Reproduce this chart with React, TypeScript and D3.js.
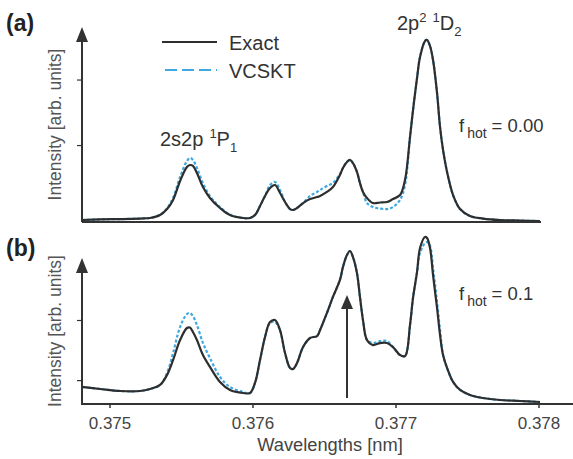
import React from 'react';
import * as d3 from 'd3';

const W = 573;
const H = 459;

// wavelength grid [nm], shared by all four curves
const wavelengths = [
  0.374804, 0.37493, 0.37507, 0.37521, 0.37528, 0.37535, 0.375399, 0.375441, 0.37549, 0.375538,
  0.375559, 0.37558, 0.375608, 0.37565, 0.375699, 0.375769, 0.375839, 0.37593, 0.375979, 0.376014,
  0.376049, 0.376084, 0.376119, 0.376154, 0.376189, 0.376224, 0.376259, 0.37628, 0.376308, 0.37635,
  0.376399, 0.376448, 0.376469, 0.376517, 0.376559, 0.376608, 0.376629, 0.376657, 0.376678, 0.376699,
  0.376727, 0.376748, 0.376769, 0.376797, 0.376839, 0.376888, 0.376937, 0.376979, 0.377028, 0.377063,
  0.377098, 0.377119, 0.377147, 0.377168, 0.377203, 0.377217, 0.377238, 0.377259, 0.377287, 0.377308,
  0.377329, 0.377357, 0.377399, 0.377448, 0.377517, 0.377608, 0.377727, 0.377867, 0.378007,
];

// panel (a), f_hot = 0.00
const exactA = [
  0.011, 0.014, 0.016, 0.019, 0.022, 0.038, 0.071, 0.121, 0.225, 0.302,
  0.313, 0.308, 0.269, 0.192, 0.132, 0.077, 0.038, 0.022, 0.022, 0.038,
  0.088, 0.143, 0.187, 0.203, 0.159, 0.11, 0.071, 0.066, 0.077, 0.104,
  0.126, 0.137, 0.143, 0.165, 0.192, 0.258, 0.297, 0.33, 0.341, 0.324,
  0.275, 0.214, 0.165, 0.132, 0.104, 0.107, 0.11, 0.126, 0.148, 0.231,
  0.467, 0.615, 0.791, 0.907, 0.995, 1.0, 0.967, 0.89, 0.709, 0.522,
  0.396, 0.275, 0.148, 0.071, 0.033, 0.019, 0.011, 0.008, 0.005,
];
const vcsktA = [
  0.011, 0.014, 0.016, 0.019, 0.022, 0.04, 0.075, 0.132, 0.247, 0.335,
  0.352, 0.341, 0.297, 0.214, 0.143, 0.082, 0.04, 0.022, 0.022, 0.038,
  0.088, 0.143, 0.203, 0.22, 0.176, 0.11, 0.071, 0.066, 0.077, 0.104,
  0.143, 0.165, 0.176, 0.198, 0.214, 0.264, 0.297, 0.33, 0.341, 0.324,
  0.275, 0.214, 0.165, 0.104, 0.082, 0.074, 0.071, 0.082, 0.121, 0.203,
  0.467, 0.615, 0.791, 0.907, 0.995, 1.0, 0.967, 0.89, 0.709, 0.522,
  0.396, 0.275, 0.148, 0.071, 0.033, 0.019, 0.011, 0.008, 0.005,
];

// panel (b), f_hot = 0.1
const exactB = [
  0.102, 0.09, 0.078, 0.078, 0.09, 0.114, 0.174, 0.263, 0.383, 0.455,
  0.458, 0.431, 0.383, 0.293, 0.222, 0.132, 0.084, 0.066, 0.066, 0.126,
  0.263, 0.401, 0.491, 0.503, 0.443, 0.305, 0.216, 0.21, 0.246, 0.341,
  0.395, 0.407, 0.443, 0.545, 0.641, 0.743, 0.82, 0.892, 0.916, 0.88,
  0.784, 0.641, 0.503, 0.383, 0.353, 0.365, 0.365, 0.341, 0.293, 0.287,
  0.473, 0.635, 0.79, 0.934, 1.0, 0.994, 0.934, 0.772, 0.575, 0.413,
  0.293, 0.216, 0.132, 0.084, 0.054, 0.036, 0.024, 0.018, 0.012,
];
const vcsktB = [
  0.102, 0.09, 0.078, 0.078, 0.09, 0.114, 0.186, 0.305, 0.461, 0.539,
  0.545, 0.527, 0.473, 0.365, 0.275, 0.162, 0.102, 0.072, 0.066, 0.126,
  0.263, 0.401, 0.485, 0.491, 0.44, 0.305, 0.216, 0.21, 0.246, 0.341,
  0.395, 0.407, 0.443, 0.545, 0.641, 0.743, 0.82, 0.892, 0.916, 0.88,
  0.784, 0.641, 0.503, 0.383, 0.365, 0.377, 0.377, 0.341, 0.293, 0.287,
  0.473, 0.635, 0.79, 0.904, 0.964, 0.97, 0.946, 0.814, 0.611, 0.443,
  0.293, 0.216, 0.132, 0.084, 0.054, 0.036, 0.024, 0.018, 0.012,
];

const xTicks = [0.375, 0.376, 0.377, 0.378];
const yTicksA = [0.42, 0.78];
const yTicksB = [0.14, 0.5];

const seriesNames = ['Exact', 'VCSKT'];

const AXIS_X = 82;
const FONT = '"Liberation Sans", Arial, sans-serif';
const DARK = '#2e2e2e';
const BLUE = '#3ea8e0';

const x = d3.scaleLinear().domain([0.375, 0.378]).range([110, 539]);
const yA = d3.scaleLinear().domain([0, 1]).range([222, 40]);
const yB = d3.scaleLinear().domain([0, 1]).range([404, 237]);

const linePath = (ys: number[], y: d3.ScaleLinear<number, number>) =>
  d3
    .line<number>()
    .x((d, i) => x(wavelengths[i]))
    .y((d) => y(d))
    .curve(d3.curveCatmullRom.alpha(0.5))(ys) as string;

const Arrow = ({ cx, tip, base }: { cx: number; tip: number; base: number }) => (
  <path d={`M${cx},${tip}L${cx - 6},${base}L${cx + 6},${base}Z`} fill="#333" />
);

const Panel = ({
  y,
  exact,
  vcskt,
  ticks,
  top,
  label,
  labelY,
  hot,
  hotY,
}: {
  y: d3.ScaleLinear<number, number>;
  exact: number[];
  vcskt: number[];
  ticks: number[];
  top: number;
  label: string;
  labelY: number;
  hot: string;
  hotY: number;
}) => {
  const y0 = y(0);
  const mid = (y0 + top) / 2;
  return (
    <g>
      <text x={6} y={labelY} fontFamily={FONT} fontWeight="bold" fontSize={23} fill="#222">
        {label}
      </text>
      <line x1={AXIS_X} x2={AXIS_X} y1={y0} y2={top + 10} stroke="#333" strokeWidth={2} />
      <Arrow cx={AXIS_X} tip={top} base={top + 15} />
      {ticks.map((t) => (
        <line key={t} x1={AXIS_X - 5} x2={AXIS_X} y1={y(t)} y2={y(t)} stroke="#333" strokeWidth={1.2} />
      ))}
      <text
        transform={`translate(61,${mid}) rotate(-90)`}
        textAnchor="middle"
        fontFamily={FONT}
        fontSize={17.5}
        fill="#555"
      >
        Intensity [arb. units]
      </text>
      <path d={linePath(vcskt, y)} fill="none" stroke={BLUE} strokeWidth={2.2} strokeDasharray="3,2" />
      <path d={linePath(exact, y)} fill="none" stroke={DARK} strokeWidth={2.2} />
      <text x={459} y={hotY} fontFamily={FONT} fontSize={18.5} fill="#333">
        f
        <tspan dx={3} dy={6} fontSize={14}>
          hot
        </tspan>
        <tspan dx={5} dy={-6}>
          {`= ${hot}`}
        </tspan>
      </text>
    </g>
  );
};

export default function App() {
  const yAxisB = yB(0);
  return (
    <svg
      width={W}
      height={H}
      style={{ position: 'absolute', left: 0, top: 0, background: '#fff' }}
    >
      <Panel y={yA} exact={exactA} vcskt={vcsktA} ticks={yTicksA} top={27} label="(a)" labelY={31} hot="0.00" hotY={132} />
      <line x1={AXIS_X} x2={541} y1={yA(0)} y2={yA(0)} stroke="#333" strokeWidth={2} />

      <Panel y={yB} exact={exactB} vcskt={vcsktB} ticks={yTicksB} top={258} label="(b)" labelY={256} hot="0.1" hotY={300} />
      <line x1={AXIS_X - 1} x2={W} y1={yAxisB} y2={yAxisB} stroke="#333" strokeWidth={2} />
      {xTicks.map((t) => (
        <g key={t}>
          <line x1={x(t)} x2={x(t)} y1={yAxisB} y2={yAxisB + 4} stroke="#333" strokeWidth={1.5} />
          <text x={x(t)} y={429} textAnchor="middle" fontFamily={FONT} fontSize={17} fill="#444">
            {t.toFixed(3)}
          </text>
        </g>
      ))}
      <text x={330} y={451} textAnchor="middle" fontFamily={FONT} fontSize={18.3} fill="#444">
        Wavelengths [nm]
      </text>

      {/* vertical arrow marking the hot-electron feature */}
      <line x1={347} x2={347} y1={398} y2={305} stroke="#333" strokeWidth={2} />
      <Arrow cx={347} tip={295} base={309} />

      {/* legend */}
      <line x1={162} x2={217} y1={42} y2={42} stroke={DARK} strokeWidth={2.2} />
      <line x1={165} x2={217} y1={70} y2={70} stroke={BLUE} strokeWidth={2.2} strokeDasharray="12,5" />
      <text x={229} y={50} fontFamily={FONT} fontSize={20} fill="#333">
        {seriesNames[0]}
      </text>
      <text x={229} y={78} fontFamily={FONT} fontSize={20} fill="#333">
        {seriesNames[1]}
      </text>

      {/* line assignments */}
      <text x={160} y={146} fontFamily={FONT} fontSize={20} fill="#333">
        2s2p
        <tspan dx={6} dy={-8} fontSize={13}>
          1
        </tspan>
        <tspan dy={8}>P</tspan>
        <tspan dy={6} fontSize={13}>
          1
        </tspan>
      </text>
      <text x={397} y={30} fontFamily={FONT} fontSize={20} fill="#333">
        2p
        <tspan dy={-8} fontSize={13}>
          2
        </tspan>
        <tspan dx={6} fontSize={13}>
          1
        </tspan>
        <tspan dy={8}>D</tspan>
        <tspan dy={6} fontSize={13}>
          2
        </tspan>
      </text>
    </svg>
  );
}
